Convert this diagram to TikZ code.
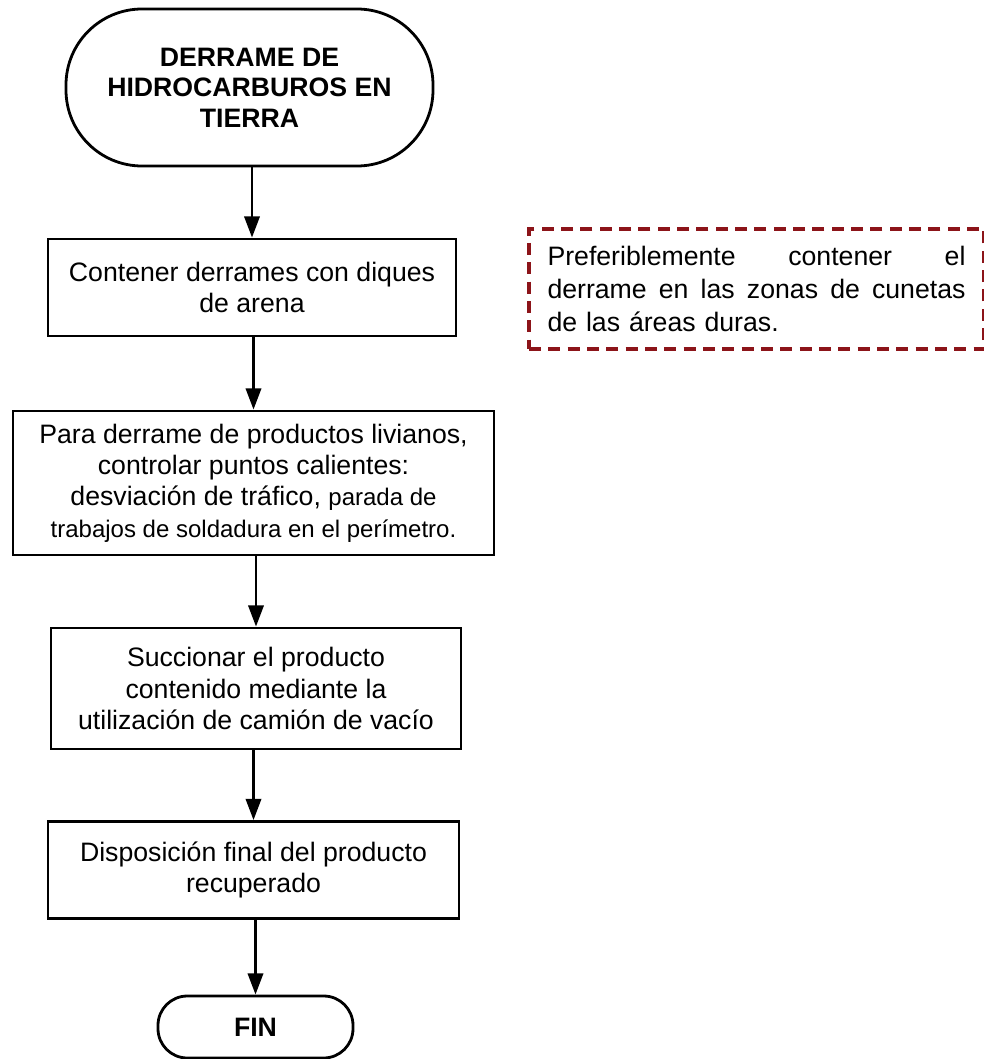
\documentclass[tikz,border=0pt]{standalone}
\usepackage{fontspec}
\setmainfont{Liberation Sans}
\usetikzlibrary{arrows.meta}
\definecolor{notered}{RGB}{140,20,25}
\begin{document}
\begin{tikzpicture}[x=0.75pt,y=-0.75pt,
  lw/.style={line width=2.1pt},
  procbox/.style={draw,lw,rectangle,inner sep=0pt,align=center,font=\fontsize{20}{23.5}\selectfont},
  termbox/.style={draw,lw,rectangle,rounded corners=#1,inner sep=0pt,align=center,font=\bfseries\fontsize{20}{23}\selectfont},
  arr/.style={lw,-{Triangle[length=16pt,width=11.5pt]}},
  notebox/.style={draw=notered,line width=2.3pt,dash pattern=on 9pt off 5.5pt,inner sep=0pt,align=left,font=\fontsize{20}{25}\selectfont}
]
\useasboundingbox (0,0) rectangle (983,1059);

\node[termbox=57pt, minimum width=275.25pt, minimum height=117.75pt] (start) at (249.5,87.5)
  {DERRAME DE\\HIDROCARBUROS EN\\TIERRA};

\node[procbox, minimum width=306pt, minimum height=72.75pt] (b1) at (252,287.5)
  {Contener derrames con diques\\de arena};

\node[procbox, minimum width=360.75pt, minimum height=108pt] (b2) at (253.5,483)
  {Para derrame de productos livianos,\\controlar puntos calientes:\\desviación de tráfico, {\fontsize{18}{23}\selectfont parada de}\\{\fontsize{18}{23}\selectfont trabajos de soldadura en el perímetro.}};

\node[procbox, minimum width=307.5pt, minimum height=90.75pt] (b3) at (256,688.5)
  {Succionar el producto\\contenido mediante la\\utilización de camión de vacío};

\node[procbox, minimum width=308.25pt, minimum height=72.75pt] (b4) at (253.5,870)
  {Disposición final del producto\\recuperado};

\node[termbox=22pt, minimum width=146.25pt, minimum height=46.5pt] (fin) at (255.5,1027) {FIN};

\node[notebox, minimum width=341.25pt, minimum height=90pt, text width=313.5pt, xshift=1.5pt] (note) at (754.5,289)
  {\makebox[313.5pt][l]{Preferiblemente\hfill contener\hfill el}\\
   \makebox[313.5pt][l]{derrame\hfill en\hfill las\hfill zonas\hfill de\hfill cunetas}\\
   de las áreas duras.};

\draw[arr] (start.south -| b1.north) -- (b1.north);
\draw[arr] (b1.south -| b2.north) -- (b2.north);
\draw[arr] (b2.south -| b3.north) -- (b3.north);
\draw[arr] (b3.south -| b4.north) -- (b4.north);
\draw[arr] (b4.south -| fin.north) -- (fin.north);
\end{tikzpicture}
\end{document}
